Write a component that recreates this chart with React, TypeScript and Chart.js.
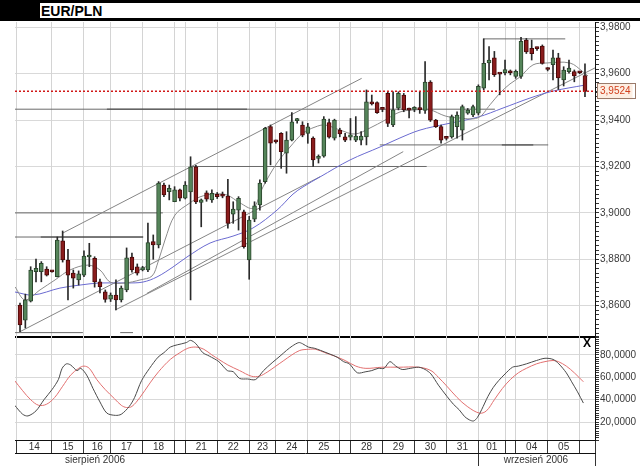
import React, { useEffect, useRef } from 'react';
import { Chart, registerables } from 'chart.js';

Chart.register(...registerables);

// ---- Candles (4-hour bars), index = bar number ----
const opens = [3.8603,3.8538,3.8620,3.8747,3.8747,3.8758,3.8748,3.8725,3.8880,3.8797,3.8741,3.8711,3.8732,3.8810,3.8804,3.8703,3.8660,3.8628,3.8646,3.8625,3.8668,3.8810,3.8768,3.8754,3.8754,3.8876,3.8862,3.9120,3.9091,3.9048,3.9099,3.9064,3.9090,3.9199,3.9045,3.9087,3.9056,3.9080,3.9074,3.9073,3.8995,3.9012,3.9005,3.8797,3.8973,3.9034,3.9135,3.9372,3.9308,3.9343,3.9257,3.9314,3.9398,3.9378,3.9343,3.9322,3.9235,3.9245,3.9389,3.9322,3.9357,3.9328,3.9326,3.9314,3.9314,3.9328,3.9474,3.9475,3.9448,3.9515,3.9379,3.9451,3.9508,3.9445,3.9446,3.9447,3.9442,3.9564,3.9400,3.9372,3.9323,3.9328,3.9372,3.9357,3.9430,3.9422,3.9430,3.9538,3.9646,3.9668,3.9600,3.9604,3.9611,3.9588,3.9588,3.9745,3.9709,3.9710,3.9719,3.9620,3.9639,3.9668,3.9573,3.9609,3.9609,3.9606,3.9592];
const highs = [3.8611,3.8650,3.8768,3.8801,3.8790,3.8768,3.8751,3.8896,3.8922,3.8843,3.8754,3.8750,3.8837,3.8869,3.8811,3.8715,3.8668,3.8655,3.8711,3.8685,3.8849,3.8827,3.8780,3.8770,3.8956,3.8905,3.9135,3.9128,3.9120,3.9113,3.9103,3.9135,3.9242,3.9205,3.9060,3.9095,3.9099,3.9088,3.9090,3.9145,3.9048,3.9070,3.9012,3.8985,3.9048,3.9142,3.9369,3.9379,3.9314,3.9346,3.9350,3.9432,3.9408,3.9393,3.9386,3.9328,3.9250,3.9415,3.9404,3.9404,3.9365,3.9343,3.9407,3.9415,3.9350,3.9530,3.9508,3.9479,3.9451,3.9522,3.9522,3.9522,3.9515,3.9452,3.9458,3.9522,3.9652,3.9570,3.9403,3.9379,3.9329,3.9422,3.9436,3.9465,3.9450,3.9465,3.9552,3.9750,3.9717,3.9696,3.9602,3.9659,3.9616,3.9616,3.9757,3.9752,3.9745,3.9715,3.9724,3.9626,3.9702,3.9688,3.9630,3.9659,3.9616,3.9610,3.9642];
const lows = [3.8488,3.8504,3.8616,3.8702,3.8703,3.8728,3.8744,3.8724,3.8788,3.8625,3.8676,3.8689,3.8725,3.8768,3.8680,3.8655,3.8615,3.8618,3.8582,3.8616,3.8660,3.8745,3.8732,3.8750,3.8747,3.8800,3.8849,3.9070,3.9056,3.9048,3.9052,3.9060,3.8625,3.9040,3.8940,3.9050,3.9045,3.9062,3.9065,3.8934,3.8955,3.8926,3.8848,3.8714,3.8962,3.9012,3.9128,3.9207,3.9300,3.9192,3.9171,3.9310,3.9387,3.9328,3.9300,3.9200,3.9215,3.9240,3.9322,3.9314,3.9328,3.9307,3.9314,3.9307,3.9293,3.9293,3.9465,3.9429,3.9436,3.9372,3.9372,3.9444,3.9436,3.9409,3.9436,3.9429,3.9429,3.9394,3.9368,3.9300,3.9314,3.9322,3.9322,3.9314,3.9425,3.9415,3.9422,3.9530,3.9573,3.9588,3.9509,3.9595,3.9595,3.9580,3.9580,3.9687,3.9659,3.9700,3.9641,3.9612,3.9573,3.9532,3.9547,3.9602,3.9565,3.9600,3.9501];
const closes = [3.8517,3.8625,3.8754,3.8761,3.8783,3.8732,3.8746,3.8883,3.8797,3.8732,3.8719,3.8737,3.8814,3.8818,3.8703,3.8682,3.8627,3.8646,3.8625,3.8676,3.8806,3.8754,3.8740,3.8764,3.8872,3.8862,3.9128,3.9077,3.9106,3.9099,3.9064,3.9120,3.9199,3.9047,3.9056,3.9059,3.9084,3.9070,3.9072,3.8955,3.9016,3.9063,3.8854,3.8969,3.9030,3.9128,3.9365,3.9300,3.9306,3.9264,3.9314,3.9393,3.9402,3.9335,3.9371,3.9228,3.9242,3.9404,3.9326,3.9400,3.9340,3.9314,3.9336,3.9331,3.9331,3.9479,3.9470,3.9432,3.9446,3.9386,3.9444,3.9515,3.9444,3.9443,3.9448,3.9445,3.9564,3.9400,3.9372,3.9314,3.9321,3.9415,3.9422,3.9458,3.9443,3.9458,3.9545,3.9645,3.9659,3.9596,3.9598,3.9618,3.9604,3.9610,3.9740,3.9694,3.9686,3.9708,3.9644,3.9618,3.9668,3.9582,3.9616,3.9624,3.9590,3.9604,3.9524];

// ---- Date axis (positions in bar units) ----
const dayBounds = [-0.62, 6, 12, 17, 23, 29, 31, 37, 43, 48, 54, 60, 62, 68, 74, 80, 86, 91, 93, 99, 105, 107.88];
const dayLabels = ['14', '15', '16', '17', '18', '', '21', '22', '23', '24', '25', '', '28', '29', '30', '31', '01', '', '04', '05', ''];
const monthLabels = ['sierpień 2006', 'wrzesień 2006'];
const monthLabelPos = [14.07, 96.8];
const monthBounds = [86, 107.88];

// ---- Price axis ----
const priceTicks = [3.86, 3.88, 3.9, 3.92, 3.94, 3.96, 3.98];
const lastPrice = 3.9524;
const stochTicks = [20, 40, 60, 80];

// ---- Moving averages ----
const maGrayX = [-0.94,0.94,3.75,6.57,9.38,12.76,15.01,16.89,19.7,22.51,24.77,25.89,27.2,29.08,31.89,33.77,36.21,38.84,41.28,43.71,45.59,48.22,50.66,53.1,55.35,57.22,60.04,62.85,65.67,68.48,71.29,74.11,76.92,79.74,81.99,85.93,88.18,90.06,91.93,93.81,96.25,98.69,103.19,105.63,106.57];
const maGrayY = [3.8681,3.8625,3.8668,3.8711,3.8754,3.8775,3.8754,3.8702,3.8698,3.8711,3.8728,3.8788,3.8883,3.8991,3.9043,3.9069,3.9081,3.9077,3.9043,3.9021,3.9112,3.9215,3.9284,3.9344,3.9370,3.9379,3.9357,3.9340,3.9366,3.9400,3.9435,3.9444,3.9444,3.9418,3.9410,3.9410,3.9466,3.9517,3.9556,3.9586,3.9638,3.9646,3.9646,3.9608,3.9590];
const maBlueX = [-0.94,2.44,7.5,11.26,15.01,20.08,23.08,25.7,28.71,31.33,35.65,39.96,43.71,48.22,51.22,53.1,56.29,61.91,67.54,71.29,75.05,79.92,85.93,90.62,95.68,100.0,106.0];
const maBlueY = [3.8659,3.8646,3.8676,3.8689,3.8698,3.8698,3.8702,3.8724,3.8767,3.8810,3.8870,3.8900,3.8935,3.9012,3.9081,3.9112,3.9155,3.9228,3.9284,3.9323,3.9357,3.9383,3.9413,3.9452,3.9495,3.9525,3.9551];

// ---- Trend lines ----
const trendStartX = [8.01, 0, 17.9, 23.8];
const trendStartY = [3.8913, 3.8488, 3.8582, 3.8653];
const trendEndX = [64.1, 56.3, 107.88, 71.9];
const trendEndY = [3.958, 3.9156, 3.9625, 3.9264];

// ---- Horizontal support / resistance ----
const levelValues = [3.9447, 3.92, 3.9, 3.8896, 3.8484, 3.8484, 3.9293, 3.975];
const levelFrom = [-0.94, 31.9, -0.94, -0.94, -0.94, 18.8, 67.5, 86.9];
const levelTo = [89.1, 76.3, 26.8, 23.1, 11.8, 21.2, 99.1, 102.3];
const strongValues = [3.9447, 3.8896, 3.9293];
const strongFrom = [16.3, 3.9, 90.4];
const strongTo = [42.6, 23.1, 96.3];

// ---- Stochastic ----
const stochKX = [-1.0,0.5,1.5,3.0,4.5,6.0,7.2,7.9,8.7,9.5,10.7,11.4,12.5,13.7,15.0,16.3,17.9,19.0,20.5,21.5,22.8,24.3,25.9,27.0,28.2,29.5,31.2,32.0,33.0,34.3,35.5,37.3,38.9,40.0,41.2,42.7,44.2,45.7,47.3,48.8,50.0,51.1,52.3,53.0,54.1,55.2,56.4,58.0,59.5,60.7,61.8,63.3,64.9,66.0,67.2,68.3,69.4,70.5,71.7,73.2,74.8,76.0,77.1,78.5,80.1,81.3,82.4,83.4,84.3,85.1,85.8,86.6,87.8,88.8,89.8,91.0,92.4,93.5,95.0,96.9,98.5,100.0,101.1,102.5,103.5,104.6,105.7];
const stochK = [35,27,25.5,30,40,49,58,68,72,71,66,68,62,50,38,28,26,27,34,42,57,68,78,82,87,89,91,93,90,82,79,74,66,65,59,58.5,58,66,73,79,84,88,91,90,87,86,84,81,78,74,72,64,65,66,68,68,74,70,67,68,69,67,63,53,43,36,31,25,22,21,24,31,43,51,57,63,69,70,72,75,77,76,72,64,56,47,37];
const stochDX = [-1.0,0.5,2.0,3.5,5.0,6.5,8.0,9.5,11.0,12.0,13.0,14.4,16.0,17.7,19.0,20.0,21.0,22.5,24.4,26.0,28.2,30.0,31.5,33.0,34.5,36.0,37.3,39.0,41.2,43.4,44.9,46.5,48.0,49.5,51.0,52.5,54.1,55.5,57.2,59.0,61.0,63.0,64.9,67.9,71.0,74.8,77.1,78.5,80.1,82.0,83.9,86.2,87.5,89.0,90.5,92.0,93.5,95.0,96.9,98.5,100.0,101.0,102.5,104.0,105.7];
const stochD = [57,48,40,35,36,42,52,62,68,70,68,58,49,41,35,33,34,42,55,65,76,82,86,87,85,80,76,71,66,61,61,65,70,75,80,84,85,85,82,79,75,70,68,69,69,69,66,60,52,42,34,28,30,40,50,58,64,68,72,74,75,74,70,64,56];

const FONT = "'Liberation Sans', Arial, Helvetica, sans-serif";
const GREEN = '#55855a';
const GREEN_EDGE = '#2b472d';
const RED = '#8a1c1c';
const RED_EDGE = '#4a0808';
const X_MIN = -0.94;
const X_MAX = 107.88;
const P_MIN = 3.84651;
const P_MAX = 3.98228;
const S_MIN = 4;
const S_MAX = 96;

const fmt = (v: number) => v.toFixed(4).replace('.', ',');
const near = (a: number, b: number) => Math.abs(a - b) < 1e-7;

// outline around the last-price label on the price axis
const lastPriceFrame = {
  id: 'lastPriceFrame',
  afterDraw(chart: any) {
    const s = chart.scales.y;
    if (!s) return;
    const y = s.getPixelForValue(lastPrice);
    const ctx = chart.ctx;
    ctx.save();
    ctx.strokeStyle = '#9a7a6a';
    ctx.lineWidth = 1;
    ctx.strokeRect(s.left + 2.5, Math.round(y) - 7.5, 38, 15);
    ctx.restore();
  },
};

export default function App() {
  const ref = useRef<HTMLCanvasElement>(null);

  useEffect(() => {
    const canvas = ref.current;
    if (!canvas) return;
    Chart.defaults.font.family = FONT;
    Chart.defaults.font.size = 10;

    const idx = closes.map((_, i) => i);
    const bodyData = idx.map((i) => ({ x: i, y: [opens[i], closes[i]] }));
    const wickData = idx.map((i) => ({ x: i, y: [lows[i], highs[i]] }));
    const up = idx.map((i) => closes[i] >= opens[i]);

    const lineDs = (data: any[], color: string, width: number, order: number, extra: any = {}) => ({
      type: 'line',
      data,
      borderColor: color,
      borderWidth: width,
      pointRadius: 0,
      fill: false,
      order,
      xAxisID: 'x',
      yAxisID: 'y',
      ...extra,
    });

    const datasets: any[] = [];
    datasets.push({
      type: 'bar',
      data: bodyData,
      backgroundColor: up.map((u) => (u ? GREEN : RED)),
      borderColor: up.map((u) => (u ? GREEN_EDGE : RED_EDGE)),
      borderWidth: 1,
      borderSkipped: false,
      barThickness: 4,
      minBarLength: 2,
      grouped: false,
      order: 0,
      xAxisID: 'x',
      yAxisID: 'y',
    });
    datasets.push({
      type: 'bar',
      data: wickData,
      backgroundColor: '#2a2a2a',
      borderWidth: 0,
      barThickness: 1,
      grouped: false,
      order: 1,
      xAxisID: 'x',
      yAxisID: 'y',
    });
    datasets.push(lineDs(maGrayX.map((x, i) => ({ x, y: maGrayY[i] })), '#8c8c8c', 1, 3, { tension: 0.35 }));
    datasets.push(lineDs(maBlueX.map((x, i) => ({ x, y: maBlueY[i] })), '#6a6ad0', 1, 3, { tension: 0.35 }));
    trendStartX.forEach((sx, i) => {
      datasets.push(lineDs([{ x: sx, y: trendStartY[i] }, { x: trendEndX[i], y: trendEndY[i] }], '#858585', 1, 4));
    });
    levelValues.forEach((v, i) => {
      datasets.push(lineDs([{ x: levelFrom[i], y: v }, { x: levelTo[i], y: v }], '#6a6a6a', 1, 4));
    });
    strongValues.forEach((v, i) => {
      datasets.push(lineDs([{ x: strongFrom[i], y: v }, { x: strongTo[i], y: v }], '#111111', 1, 4));
    });
    datasets.push(lineDs([{ x: X_MIN, y: lastPrice }, { x: X_MAX, y: lastPrice }], '#d01818', 1.6, -1, { borderDash: [2, 2] }));
    datasets.push(lineDs(stochKX.map((x, i) => ({ x, y: stochK[i] })), '#4a4a4a', 1, 2, { yAxisID: 'y2', tension: 0.3 }));
    datasets.push(lineDs(stochDX.map((x, i) => ({ x, y: stochD[i] })), '#e27070', 1, 2, { yAxisID: 'y2', tension: 0.35 }));

    const dayCenters = dayLabels.map((_, i) => (dayBounds[i] + dayBounds[i + 1]) / 2);
    const dayLabelMap = new Map<number, string>();
    dayCenters.forEach((c, i) => dayLabelMap.set(c, dayLabels[i]));
    const monthLabelMap = new Map<number, string>();
    monthLabelPos.forEach((p, i) => monthLabelMap.set(p, monthLabels[i]));

    const isPriceMajor = (v: number) => priceTicks.some((p) => near(p, v));

    const chart = new Chart(canvas, {
      type: 'bar',
      data: { datasets },
      plugins: [lastPriceFrame],
      options: {
        animation: false,
        responsive: false,
        events: [],
        layout: { padding: { left: 15, top: 1, right: 0, bottom: 0 } },
        plugins: { legend: { display: false }, tooltip: { enabled: false }, title: { display: false } },
        scales: {
          y: {
            type: 'linear',
            position: 'right',
            stack: 'panels',
            stackWeight: 315,
            min: P_MIN,
            max: P_MAX,
            bounds: 'data',
            afterBuildTicks: (s: any) => {
              const t: any[] = [];
              for (let i = 0; i <= 67; i++) t.push({ value: Math.round((3.848 + i * 0.002) * 1000) / 1000 });
              t.push({ value: lastPrice });
              t.sort((a, b) => a.value - b.value);
              s.ticks = t;
            },
            afterFit: (s: any) => { s.width = 45; s.paddingTop = 0; s.paddingBottom = 0; },
            ticks: {
              autoSkip: false,
              padding: 1,
              font: { size: 10, family: FONT },
              color: (ctx: any) => (ctx.tick && near(ctx.tick.value, lastPrice) ? '#d2401e' : '#3a3a3a'),
              showLabelBackdrop: (ctx: any) => !!(ctx.tick && near(ctx.tick.value, lastPrice)),
              backdropColor: '#fdeee2',
              backdropPadding: { x: 2, y: 2 },
              callback: (v: any) => (isPriceMajor(v) || near(v, lastPrice) ? fmt(v) : ''),
            },
            grid: {
              color: (ctx: any) => (ctx.tick && isPriceMajor(ctx.tick.value) ? '#d9d9d9' : 'rgba(0,0,0,0)'),
              tickColor: '#333',
              tickLength: 4,
              drawTicks: true,
            },
            border: { display: true, color: '#111', width: 1 },
          },
          y2: {
            type: 'linear',
            position: 'right',
            stack: 'panels',
            stackWeight: 103,
            min: S_MIN,
            max: S_MAX,
            bounds: 'data',
            afterBuildTicks: (s: any) => {
              const t: any[] = [];
              for (let v = S_MIN; v <= S_MAX; v += 2) t.push({ value: v });
              s.ticks = t;
            },
            afterFit: (s: any) => { s.width = 45; s.paddingTop = 0; s.paddingBottom = 0; },
            ticks: {
              autoSkip: false,
              padding: 1,
              font: { size: 10, family: FONT },
              color: '#3a3a3a',
              callback: (v: any) => (stochTicks.includes(v) ? fmt(v) : ''),
            },
            grid: {
              color: (ctx: any) => {
                const v = ctx.tick ? ctx.tick.value : 0;
                if (v === S_MAX) return '#000';
                return stochTicks.includes(v) ? '#d9d9d9' : 'rgba(0,0,0,0)';
              },
              lineWidth: (ctx: any) => (ctx.tick && ctx.tick.value === S_MAX ? 2 : 1),
              tickColor: '#333',
              tickLength: 4,
              drawTicks: true,
            },
            border: { display: true, color: '#111', width: 1 },
          },
          x: {
            type: 'linear',
            position: 'bottom',
            weight: 0,
            min: X_MIN,
            max: X_MAX,
            bounds: 'data',
            offset: false,
            afterBuildTicks: (s: any) => {
              const vals = [...dayBounds, ...dayCenters].sort((a, b) => a - b);
              s.ticks = vals.map((value) => ({ value }));
            },
            afterFit: (s: any) => { s.height = 13; s.paddingLeft = 0; s.paddingRight = 0; },
            ticks: {
              autoSkip: false,
              maxRotation: 0,
              minRotation: 0,
              padding: -12,
              font: { size: 10, family: FONT },
              color: '#333',
              callback: (v: any) => dayLabelMap.get(v) ?? '',
            },
            grid: {
              offset: false,
              color: (ctx: any) => (ctx.tick && dayBounds.includes(ctx.tick.value) ? '#d4d4d4' : 'rgba(0,0,0,0)'),
              tickColor: (ctx: any) => (ctx.tick && dayBounds.includes(ctx.tick.value) ? '#333' : 'rgba(0,0,0,0)'),
              tickLength: 13,
              drawTicks: true,
            },
            border: { display: true, color: '#111', width: 1 },
          },
          x2: {
            type: 'linear',
            axis: 'x',
            position: 'bottom',
            weight: 1,
            min: X_MIN,
            max: X_MAX,
            bounds: 'data',
            offset: false,
            afterBuildTicks: (s: any) => {
              const vals = [...monthBounds, ...monthLabelPos].sort((a, b) => a - b);
              s.ticks = vals.map((value) => ({ value }));
            },
            afterFit: (s: any) => { s.height = 13; s.paddingLeft = 0; s.paddingRight = 0; },
            ticks: {
              autoSkip: false,
              maxRotation: 0,
              minRotation: 0,
              padding: -12,
              font: { size: 10, family: FONT },
              color: '#333',
              callback: (v: any) => monthLabelMap.get(v) ?? '',
            },
            grid: {
              offset: false,
              drawOnChartArea: false,
              color: 'rgba(0,0,0,0)',
              tickColor: (ctx: any) => (ctx.tick && monthBounds.includes(ctx.tick.value) ? '#333' : 'rgba(0,0,0,0)'),
              tickLength: 13,
              drawTicks: true,
            },
            border: { display: true, color: '#111', width: 1 },
          },
        },
      } as any,
    } as any);

    return () => chart.destroy();
  }, []);

  return (
    <div style={{ position: 'absolute', left: 0, top: 0, width: 640, height: 466, background: '#fff', overflow: 'hidden' }}>
      <div style={{ position: 'absolute', left: 0, top: 0, width: 640, height: 21, background: '#000' }}>
        <div
          style={{
            position: 'absolute',
            left: 40,
            top: 3,
            width: 600,
            height: 15,
            background: '#fff',
            fontFamily: FONT,
            fontWeight: 'bold',
            fontSize: 14,
            lineHeight: '17px',
            paddingLeft: 1,
            color: '#000',
            whiteSpace: 'nowrap',
          }}
        >
          EUR/PLN
        </div>
      </div>
      <div style={{ position: 'absolute', left: 0, top: 21, width: 640, height: 445 }}>
        <canvas ref={ref} width={640} height={445} style={{ width: 640, height: 445, display: 'block' }} />
      </div>
      <div
        style={{
          position: 'absolute',
          left: 583,
          top: 337,
          fontFamily: FONT,
          fontWeight: 'bold',
          fontSize: 12,
          lineHeight: '12px',
          color: '#000',
        }}
      >
        X
      </div>
    </div>
  );
}
